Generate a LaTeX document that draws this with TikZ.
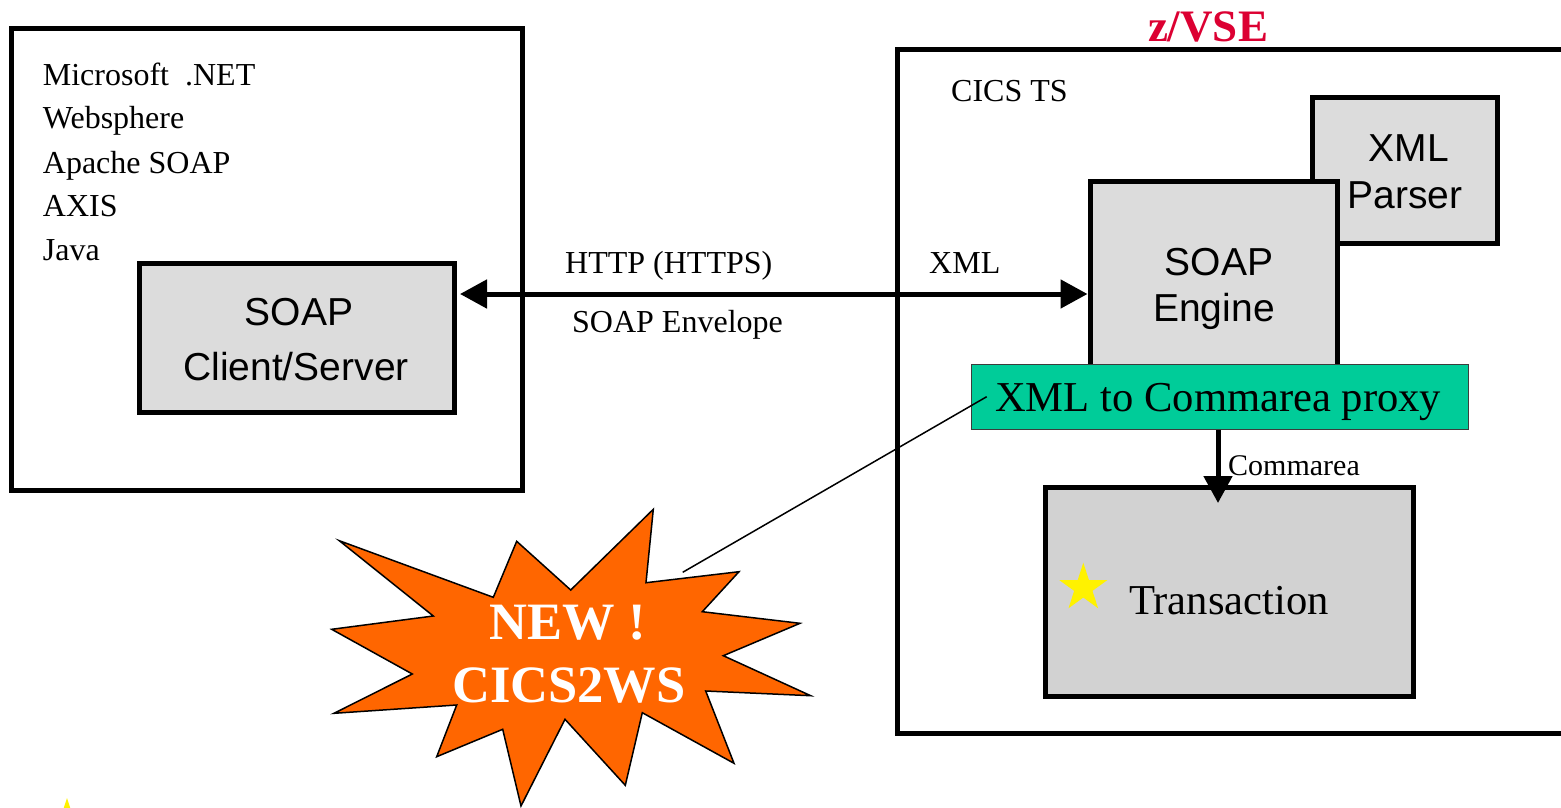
\documentclass[tikz,border=0pt]{standalone}
\usepackage{fontspec}
\setmainfont{Liberation Serif}
\setsansfont{Liberation Sans}
\usetikzlibrary{arrows.meta}
\definecolor{boxgray}{HTML}{DCDCDC}
\definecolor{trgray}{HTML}{D2D2D2}
\definecolor{proxyteal}{HTML}{00CC99}
\definecolor{burstorange}{HTML}{FF6600}
\definecolor{zvsered}{HTML}{DC0032}
\begin{document}
\begin{tikzpicture}[x=1pt,y=-1pt,
  frame/.style={draw=black,line width=5pt,inner sep=0pt},
  graybox/.style={frame,fill=boxgray},
  serif31/.style={font=\fontsize{32}{38}\selectfont,inner sep=0pt,anchor=base west},
  sans39/.style={font=\sffamily\fontsize{39}{46}\selectfont,inner sep=0pt,anchor=base},
  big42/.style={font=\fontsize{42.6}{50}\selectfont,inner sep=0pt,anchor=base west},
  bursttxt/.style={font=\bfseries\fontsize{52.5}{60}\selectfont,text=white,inner sep=0pt,anchor=base},
  bigtip/.tip={Triangle[length=27pt,width=28pt]},
  ystar/.pic={\fill[yellow] (-90:25.2) -- (-54:9.63) -- (-18:25.2) -- (18:9.63) -- (54:25.2)
     -- (90:9.63) -- (126:25.2) -- (162:9.63) -- (198:25.2) -- (234:9.63) -- cycle;}
]
\useasboundingbox (0,0) rectangle (1561,808);
\clip (0,0) rectangle (1561,808);

% left platform box
\node[frame, minimum width=511pt, minimum height=461.5pt] (client) at (266.5,259.25) {};
\node[serif31] (t1) at (42.7,85) {Microsoft~~.NET};
\node[serif31] (t2) at (42.7,128.3) {Websphere};
\node[serif31] (t3) at (42.7,173.3) {Apache SOAP};
\node[serif31] (t4) at (42.7,216.7) {AXIS};
\node[serif31] (t5) at (42.7,260) {Java};

\node[graybox, minimum width=315pt, minimum height=149pt] (soapcs) at (296.5,337.5) {};
\node[sans39] (cs1) at (299,325) {SOAP};
\node[sans39] (cs2) at (296,380) {Client/Server};

% z/VSE box
\node[font=\bfseries\fontsize{45}{52}\selectfont, text=zvsered, inner sep=0pt, anchor=base] (zlabel) at (1208,42) {z/VSE};
\node[frame, minimum width=703pt, minimum height=683pt] (zvse) at (1248.5,391.5) {};
\node[serif31] (cics) at (951,101) {CICS TS};

\node[graybox, minimum width=185pt, minimum height=145.5pt] (parser) at (1404.5,170.25) {};
\node[sans39] (p1) at (1409,161) {XML};
\node[sans39] (p2) at (1405,208) {Parser};

\node[graybox, minimum width=247pt, minimum height=199pt] (engine) at (1213.5,280.5) {};
\node[sans39] (e1) at (1219,275) {SOAP};
\node[sans39] (e2) at (1214,321.7) {Engine};

\node[draw={rgb,255:red,60;green,60;blue,60}, line width=1pt, fill=proxyteal, inner sep=0pt,
      minimum width=497pt, minimum height=65pt] (proxy) at (1219.5,396.5) {};
\node[big42] (proxytxt) at (995,411.7) {XML to Commarea proxy};

\node[frame, fill=trgray, minimum width=368pt, minimum height=209pt] (trans) at (1229,592) {};
\node[big42] (transtxt) at (1129,614) {Transaction};
\pic at (1083.3,587.9) {ystar};

% HTTP connection
\coordinate (ay) at (0,294);
\draw[line width=5pt, bigtip-bigtip, shorten <=3.5pt] (soapcs.east |- ay) -- (engine.west |- ay);
\node[serif31] (http) at (565,273.5) {HTTP (HTTPS)};
\node[serif31] (env) at (572,332) {SOAP Envelope};
\node[serif31] (xml) at (929,273.5) {XML};

% Commarea arrow
\coordinate (ca) at (1218,503);
\draw[line width=5pt, -bigtip] (proxy.south -| ca) -- (ca);
\node[font=\fontsize{30}{36}\selectfont, inner sep=0pt, anchor=base west] (comm) at (1228,475) {Commarea};

% starburst
\filldraw[fill=burstorange, draw=black, line width=1.5pt]
  (339.3,540.7) -- (493.3,597.3) -- (516.7,541.3) -- (570.7,590) -- (653.3,509.3)
  -- (646,582.7) -- (739,571.7) -- (702.3,611.7) -- (800,623.3) -- (723.3,655.7)
  -- (810.7,695.7) -- (705.7,691) -- (734,763.3) -- (642.3,712.7) -- (625.3,785.3)
  -- (565,719.3) -- (521,806) -- (502.7,729.3) -- (436.7,756.7) -- (456.7,705)
  -- (334,713.3) -- (412.3,674) -- (331.7,629.3) -- (433.3,616) -- cycle;
\node[bursttxt] (new) at (568,639) {NEW !};
\node[bursttxt] (c2ws) at (569,702.7) {CICS2WS};

\coordinate (burst) at (682.7,572.3);
\coordinate (pin) at (986.7,396.7);
\draw[line width=1.5pt] (burst) -- (pin);

% cut-off star at bottom left
\pic at (67,823.2) {ystar};
\end{tikzpicture}
\end{document}
